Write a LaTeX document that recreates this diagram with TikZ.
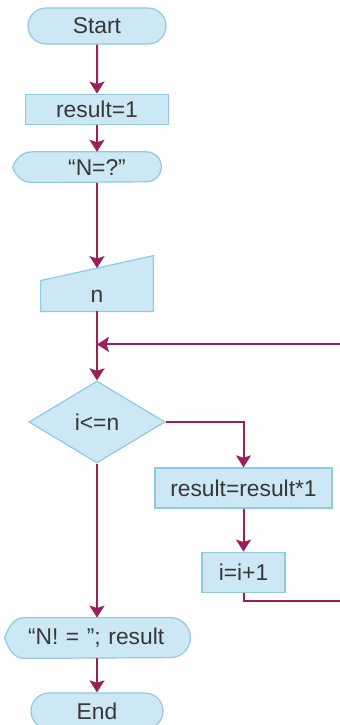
\documentclass[tikz,border=0pt]{standalone}
\usepackage{fontspec}
\setmainfont{Liberation Sans}
\usetikzlibrary{arrows.meta,positioning,shapes.geometric,shapes.misc,calc,backgrounds}
\definecolor{flowfill}{RGB}{204,232,245}
\definecolor{flowedge}{RGB}{145,200,226}
\definecolor{flowline}{RGB}{155,32,90}
\definecolor{flowtext}{RGB}{55,55,55}

\begin{document}
\begin{tikzpicture}[
  x=1pt, y=1pt,
  font=\fontsize{11.4pt}{13pt}\selectfont, text=flowtext,
  term/.style={rounded rectangle, draw=flowedge, fill=flowfill, line width=0.6pt,
               minimum height=18pt, minimum width=71pt, inner sep=1pt},
  proc/.style={rectangle, draw=flowedge, fill=flowfill, line width=0.6pt,
               minimum height=15pt, inner sep=1pt},
  disp/.style={rectangle, minimum height=15pt, inner sep=1.5pt},
  decide/.style={diamond, draw=flowedge, fill=flowfill, line width=0.6pt,
                 minimum width=68pt, minimum height=41pt, inner sep=0pt},
  outl/.style={draw=flowedge, fill=flowfill, line width=0.6pt},
  arr/.style={-{Stealth[length=6pt,width=7.5pt,inset=1.2pt]}, line width=1pt, flowline}
]
\useasboundingbox (0,0) rectangle (170,-362.5);
% ---- main column ----
\node[term] (start) at (48.5,-13) {Start};
\node[proc, below=24.5pt of start, minimum width=71.5pt] (init) {result=1};
\node[disp, below=13.5pt of init, minimum width=64pt] (ask) {“N=?”};
\node[disp, below=49pt of ask, minimum width=56pt] (readn) {n};
\node[decide, below=34.5pt of readn] (test) {i<=n};
% ---- loop body ----
\node[proc, minimum width=88.5pt, minimum height=20pt] (mult) at (121.75,-244) {result=result*1};
\node[proc, below=21.5pt of mult, minimum width=41.5pt, minimum height=20pt] (incr) {i=i+1};
% ---- output + end ----
\node[disp, below=77pt of test, xshift=5.25pt, minimum height=20pt,
      text width=79.5pt, align=left] (show) {“N! = ”; result};
\node[term, below=17pt of show, xshift=-5.25pt, minimum width=68pt] (stop) {End};
% display / manual input outlines
\begin{scope}[on background layer]
\foreach \n/\r in {ask/7.5, show/10}
  \draw[outl] ($(\n.north east)+(-\r,0)$) arc[start angle=90, end angle=-90, radius=\r]
    -- (\n.south west) to[out=180, in=-70] ($(\n.west)+(-10,0)$)
    to[out=70, in=180] (\n.north west) -- cycle;
\draw[outl] (readn.south west) -- (readn.south east) -- ($(readn.north east)+(0,12.5)$)
  -- (readn.north west) -- cycle;
\end{scope}
\coordinate (readtop) at ($(readn.north)+(0,6.25)$);
\coordinate (join) at ($(readn.south)+(0,-16.5)$);
\coordinate (loopc) at (176,-300.5);
% ---- connectors ----
\draw[arr] (start) -- (init);
\draw[arr] (init) -- (ask);
\draw[arr] (ask) -- (readtop);
\draw[arr] (readn) -- (test);
\draw[arr] (test) -| (mult);
\draw[arr] (mult) -- (incr);
\draw[arr] (incr.south) |- (loopc) |- (join);
\draw[arr] (test.south) -- (test.south |- show.north);
\draw[arr] (stop.north |- show.south) -- (stop.north);
\end{tikzpicture}
\end{document}
